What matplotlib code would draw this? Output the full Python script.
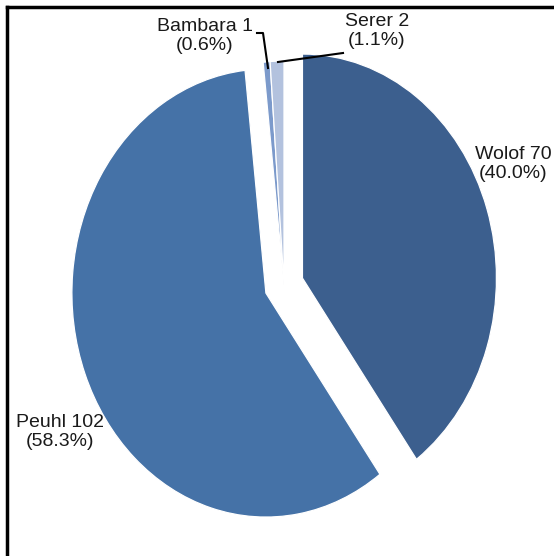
import matplotlib
matplotlib.use("Agg")
import matplotlib.pyplot as plt
from matplotlib.lines import Line2D

categories = ["Wolof", "Peuhl", "Bambara", "Serer"]
values = [70, 102, 1, 2]
colors = ["#3C5F8E", "#4572A7", "#7C9ACB", "#B3C2DE"]
explode = [0.10, 0.10, 0.0, 0.0]

total = sum(values)
labels = [f"{c} {v}\n({v / total * 100:.1f}%)" for c, v in zip(categories, values)]

W, H = 554, 556
RX, RY = 194, 224  # ellipse radii in pixels
fig = plt.figure(figsize=(W / 100, H / 100), dpi=100)
ax = fig.add_axes([0, 0, 1, 1])

def px(x, y):
    return (x / RX, (H - y) / RY)

cx, cy = px(284, 285)
wedges, _ = ax.pie(values, colors=colors, explode=explode, startangle=90,
                   counterclock=False, center=(cx, cy), radius=1,
                   wedgeprops=dict(edgecolor="white", linewidth=0.9))
ax.set_aspect("auto")
ax.set_xlim(0, W / RX)
ax.set_ylim(0, H / RY)
ax.axis("off")

fs = 14
font = dict(fontsize=fs, family=["Liberation Sans", "DejaVu Sans"], color="#1a1a1a",
            ha="center", va="center", linespacing=1.15)

ax.text(*px(513, 164), labels[0], **font)
ax.text(*px(60, 432), labels[1], **font)
ax.text(*px(205, 36), labels[2], **font)
ax.text(*px(377, 31), labels[3], **font)

# leader lines
bx = [px(257, 33), px(263, 33), px(268, 68)]
ax.add_line(Line2D([p[0] for p in bx], [p[1] for p in bx], color="black", lw=1.5))
sx = [px(278, 62), px(343, 53)]
ax.add_line(Line2D([p[0] for p in sx], [p[1] for p in sx], color="black", lw=1.5))

# frame (top and left only)
fig.add_artist(Line2D([7 / W, 7 / W], [0, 1 - 7 / H], transform=fig.transFigure, color="black", lw=2.5))
fig.add_artist(Line2D([7 / W, 1], [1 - 7 / H, 1 - 7 / H], transform=fig.transFigure, color="black", lw=2.5))

fig.savefig("out.png", dpi=100, facecolor="white")
